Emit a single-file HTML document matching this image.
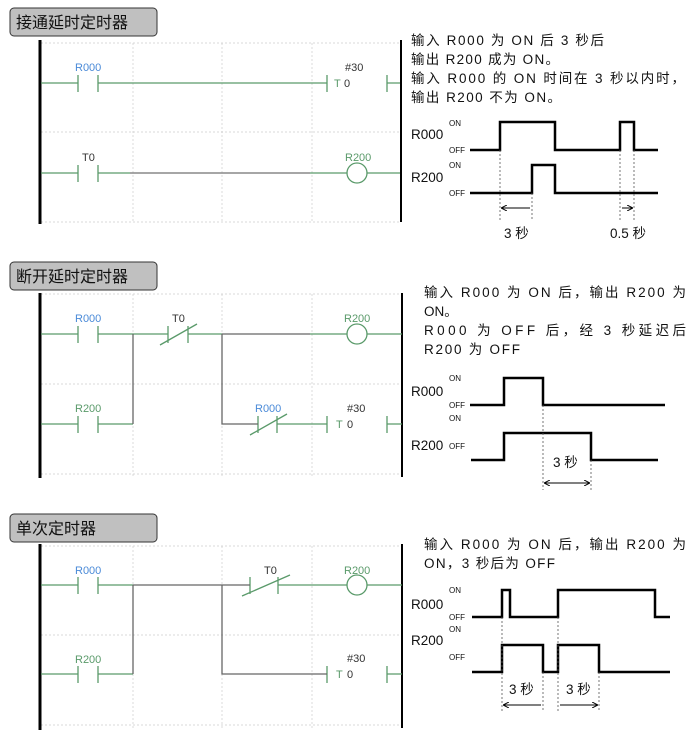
<!DOCTYPE html>
<html><head><meta charset="utf-8"><style>
body{margin:0;background:#fff;width:693px;height:740px;overflow:hidden}
svg{display:block}
.t{font-family:"Liberation Sans","Noto Sans CJK SC",sans-serif;font-size:13.5px;fill:#111}
.title{font-family:"Liberation Sans","Noto Sans CJK SC",sans-serif;font-size:16px;fill:#111}
.lb{font-family:"Liberation Sans",sans-serif;font-size:11px}
.sm{font-family:"Liberation Sans",sans-serif;font-size:8px;fill:#111}
.sig{fill:none;stroke:#000;stroke-width:2.5}
.g{stroke:#5a9a6a;stroke-width:1.3;fill:none}
.k{stroke:#666;stroke-width:1.3;fill:none}
.grid{stroke:#ccc;stroke-width:0.7;stroke-dasharray:2 2;fill:none}
.dot{stroke:#555;stroke-width:0.8;stroke-dasharray:2 2}
</style></head><body>
<svg width="693" height="740" viewBox="0 0 693 740">
<defs><marker id="a" markerWidth="6" markerHeight="6" refX="5" refY="3" orient="auto-start-reverse"><path d="M0,0L6,3L0,6" fill="none" stroke="#000" stroke-width="1"/></marker></defs>

<!-- SECTION 1 -->
<rect x="10" y="8" width="147" height="28" rx="4" fill="#c0c0c0" stroke="#333" stroke-width="1"/>
<text x="16" y="28" class="title">接通延时定时器</text>
<g class="grid"><path d="M41 43H400M41 132H400M41 222H400M133 43V222M222 43V222M312 43V222"/></g>
<path d="M40 40V224" stroke="#000" stroke-width="3"/>
<path d="M401 40V222" stroke="#000" stroke-width="2"/>
<g class="g"><path d="M41 83H78M78 75V92M98 75V92M98 83H327M327 75V92M387 75V92M387 83H400"/>
<path d="M41 173H78M78 165V182M98 165V182M98 173H130M310 173H347M367 173H400"/><circle cx="357" cy="173" r="10"/></g>
<path d="M130 173H310" stroke="#888" stroke-width="1.5"/>
<text x="75" y="71" class="lb" fill="#4a8ad8">R000</text>
<text x="82" y="161" class="lb" fill="#333">T0</text>
<text x="345" y="71" class="lb" fill="#333">#30</text>
<text x="334" y="87" class="lb" fill="#5a9a6a">T</text><text x="344" y="87" class="lb" fill="#333">0</text>
<text x="345" y="161" class="lb" fill="#5a9a6a">R200</text>
<text x="411" y="45" class="t" textLength="193">输入 R000 为 ON 后 3 秒后</text>
<text x="411" y="64" class="t" textLength="148">输出 R200 成为 ON。</text>
<text x="411" y="83" class="t" textLength="274">输入 R000 的 ON 时间在 3 秒以内时，</text>
<text x="411" y="102" class="t" textLength="150">输出 R200 不为 ON。</text>
<text x="411" y="139" class="t">R000</text><text x="411" y="182" class="t">R200</text>
<text x="449" y="126" class="sm">ON</text><text x="449" y="153" class="sm">OFF</text>
<text x="449" y="168" class="sm">ON</text><text x="449" y="196" class="sm">OFF</text>
<path class="sig" d="M470 150H500V122H555V150H620V122H634V150H658"/>
<path class="sig" d="M470 193H532V165H555V193H658"/>
<path class="dot" d="M500 150V220M532 193V220M620 150V220M634 150V220"/>
<path d="M502 208H530M622 208H632" stroke="#000" marker-start="url(#a)" marker-end="url(#a)"/>
<text x="504" y="238" class="t">3 秒</text><text x="610" y="238" class="t">0.5 秒</text>

<!-- SECTION 2 -->
<rect x="10" y="262" width="147" height="28" rx="4" fill="#c0c0c0" stroke="#333" stroke-width="1"/>
<text x="16" y="282" class="title">断开延时定时器</text>
<g class="grid"><path d="M41 294H400M41 384H400M41 474H400M133 294V476M222 294V476M312 294V476"/></g>
<path d="M40 293V478" stroke="#000" stroke-width="3"/>
<path d="M402 293V477" stroke="#000" stroke-width="2"/>
<g class="g"><path d="M41 334H78M78 326V343M98 326V343M98 334H168M168 326V343M188 326V343M188 334H222M310 334H347M367 334H402M160 345L197 324"/><circle cx="357" cy="334" r="10"/>
<path d="M41 424H78M78 416V433M98 416V433M98 424H133M258 416V433M277 416V433M277 424H327M327 416V433M387 416V433M387 424H402M250 435L287 414"/></g>
<path class="k" d="M222 334H310M133 334V424M222 334V424H258"/>
<text x="75" y="322" class="lb" fill="#4a8ad8">R000</text>
<text x="172" y="322" class="lb" fill="#333">T0</text>
<text x="344" y="322" class="lb" fill="#5a9a6a">R200</text>
<text x="75" y="412" class="lb" fill="#5a9a6a">R200</text>
<text x="255" y="412" class="lb" fill="#4a8ad8">R000</text>
<text x="347" y="412" class="lb" fill="#333">#30</text>
<text x="336" y="428" class="lb" fill="#5a9a6a">T</text><text x="347" y="428" class="lb" fill="#333">0</text>
<text x="424" y="297" class="t" textLength="262">输入 R000 为 ON 后，输出 R200 为</text>
<text x="424" y="316" class="t">ON。</text>
<text x="424" y="335" class="t" textLength="262">R000 为 OFF 后，经 3 秒延迟后</text>
<text x="424" y="354" class="t" textLength="96">R200 为 OFF</text>
<text x="411" y="396" class="t">R000</text><text x="411" y="450" class="t">R200</text>
<text x="449" y="381" class="sm">ON</text><text x="449" y="408" class="sm">OFF</text>
<text x="449" y="421" class="sm">ON</text><text x="449" y="449" class="sm">OFF</text>
<path class="sig" d="M470 405H504V378H543V405H665"/>
<path class="sig" d="M471 460H504V433H591V460H658"/>
<path class="dot" d="M543 405V490M591 460V490"/>
<path d="M545 483H589" stroke="#000" marker-start="url(#a)" marker-end="url(#a)"/>
<text x="553" y="467" class="t">3 秒</text>

<!-- SECTION 3 -->
<rect x="10" y="514" width="147" height="28" rx="4" fill="#c0c0c0" stroke="#333" stroke-width="1"/>
<text x="16" y="534" class="title">单次定时器</text>
<g class="grid"><path d="M41 546H400M41 635H400M41 725H400M133 546V728M222 546V728M312 546V728"/></g>
<path d="M40 544V730" stroke="#000" stroke-width="3"/>
<path d="M402 544V728" stroke="#000" stroke-width="2"/>
<g class="g"><path d="M41 585H78M78 577V594M98 577V594M98 585H133M250 577V594M278 577V594M278 585H347M367 585H402M242 596L290 575"/><circle cx="357" cy="585" r="10"/>
<path d="M41 674H78M78 666V683M98 666V683M98 674H133M327 666V683M387 666V683M387 674H402"/></g>
<path class="k" d="M133 585H250M133 585V674M222 585V674H327"/>
<text x="75" y="574" class="lb" fill="#4a8ad8">R000</text>
<text x="264" y="574" class="lb" fill="#333">T0</text>
<text x="344" y="574" class="lb" fill="#5a9a6a">R200</text>
<text x="75" y="663" class="lb" fill="#5a9a6a">R200</text>
<text x="347" y="662" class="lb" fill="#333">#30</text>
<text x="336" y="678" class="lb" fill="#5a9a6a">T</text><text x="347" y="678" class="lb" fill="#333">0</text>
<text x="424" y="549" class="t" textLength="262">输入 R000 为 ON 后，输出 R200 为</text>
<text x="424" y="568" class="t" textLength="131">ON，3 秒后为 OFF</text>
<text x="411" y="609" class="t">R000</text><text x="411" y="645" class="t">R200</text>
<text x="449" y="593" class="sm">ON</text><text x="449" y="620" class="sm">OFF</text>
<text x="449" y="632" class="sm">ON</text><text x="449" y="660" class="sm">OFF</text>
<path class="sig" d="M472 617H502V590H510V617H558V590H655V617H670"/>
<path class="sig" d="M472 672H502V645H543V672H558V645H599V672H670"/>
<path class="dot" d="M502 617V712M543 672V712M558 617V712M599 672V712"/>
<path d="M504 705H541M560 705H597" stroke="#000" marker-start="url(#a)" marker-end="url(#a)"/>
<text x="509" y="694" class="t">3 秒</text><text x="566" y="694" class="t">3 秒</text>
</svg>
</body></html>
